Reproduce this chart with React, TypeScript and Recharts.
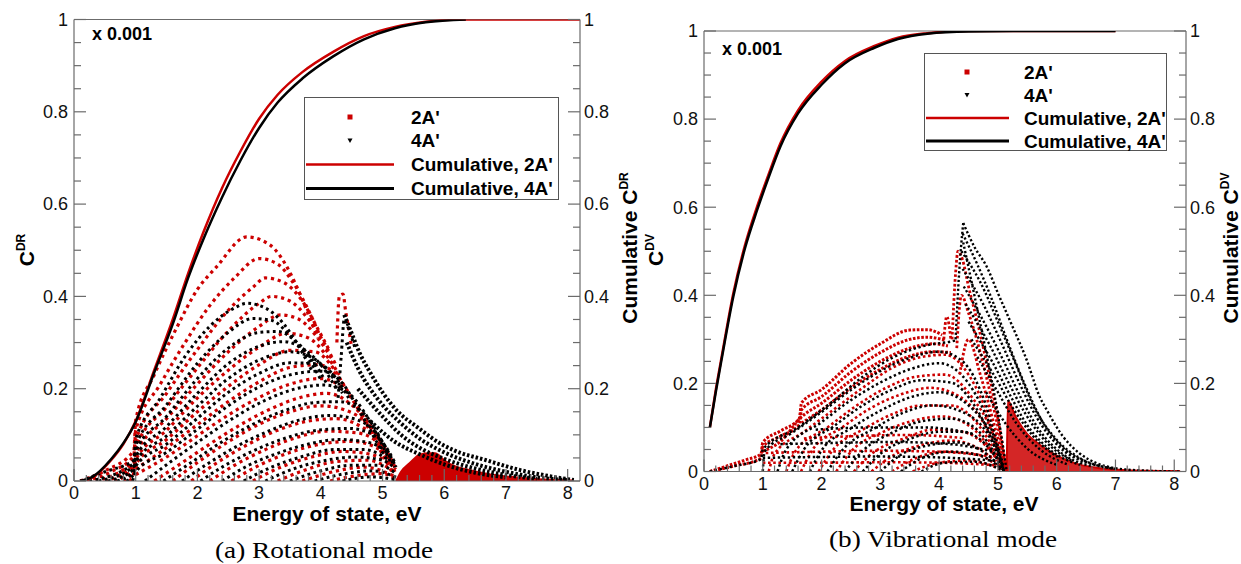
import React from 'react';
import { Area, ComposedChart, Line, ReferenceLine, XAxis, YAxis } from 'recharts';

type Pt = [number, number];

// ---------- axes ----------
const xTicks = [0, 0.2, 0.4, 0.6, 0.8, 1, 1.2, 1.4, 1.6, 1.8, 2, 2.2, 2.4, 2.6, 2.8, 3, 3.2, 3.4, 3.6, 3.8, 4, 4.2, 4.4, 4.6, 4.8, 5, 5.2, 5.4, 5.6, 5.8, 6, 6.2, 6.4, 6.6, 6.8, 7, 7.2, 7.4, 7.6, 7.8, 8];
const yTicks = [0, 0.05, 0.1, 0.15, 0.2, 0.25, 0.3, 0.35, 0.4, 0.45, 0.5, 0.55, 0.6, 0.65, 0.7, 0.75, 0.8, 0.85, 0.9, 0.95, 1];
const legendLabels = ["2A'", "4A'", "Cumulative, 2A'", "Cumulative, 4A'"];

// ---------- (a) rotational mode ----------
const rotCumRed: Pt[] = [[0.1, 0], [0.3, 0.008], [0.6, 0.045], [0.8, 0.08], [1.0, 0.13], [1.3, 0.24], [1.6, 0.35], [1.85, 0.45], [2.1, 0.54], [2.4, 0.635], [2.7, 0.715], [3.0, 0.785], [3.3, 0.837], [3.7, 0.886], [4.2, 0.93], [4.7, 0.964], [5.2, 0.984], [5.7, 0.995], [6.2, 1.0], [7.0, 1.0], [8.2, 1.0]];
const rotCumBlack: Pt[] = [[0.1, 0], [0.3, 0.009], [0.6, 0.047], [0.8, 0.082], [1.0, 0.128], [1.3, 0.235], [1.6, 0.34], [1.85, 0.44], [2.1, 0.525], [2.4, 0.615], [2.7, 0.695], [3.0, 0.765], [3.3, 0.82], [3.7, 0.872], [4.2, 0.92], [4.7, 0.957], [5.2, 0.981], [5.7, 0.994], [6.35, 1.0]];

const rotRedArcs: Pt[][] = [
  [[0.1, 0], [0.5, 0.022], [0.97, 0.066], [1.0, 0.132], [1.3, 0.23], [1.66, 0.331], [2.0, 0.415], [2.31, 0.464], [2.8, 0.529], [3.18, 0.511], [3.45, 0.464], [3.61, 0.421], [3.8, 0.36], [3.95, 0.31]],
  [[0.2, 0], [0.6, 0.02], [0.97, 0.055], [1.0, 0.11], [1.4, 0.21], [1.8, 0.3], [2.2, 0.38], [2.6, 0.44], [3.0, 0.482], [3.3, 0.47], [3.55, 0.43], [3.8, 0.37], [4.0, 0.31]],
  [[0.35, 0], [0.97, 0.044], [1.0, 0.088], [1.5, 0.19], [2.0, 0.285], [2.5, 0.37], [2.9, 0.42], [3.1, 0.44], [3.4, 0.43], [3.7, 0.39], [3.95, 0.33], [4.15, 0.28]],
  [[0.5, 0], [0.97, 0.036], [1.0, 0.072], [1.5, 0.16], [2.0, 0.245], [2.5, 0.325], [3.0, 0.385], [3.2, 0.4], [3.5, 0.39], [3.8, 0.35], [4.05, 0.3], [4.25, 0.25]],
  [[0.65, 0], [0.97, 0.029], [1.0, 0.058], [1.5, 0.135], [2.0, 0.21], [2.5, 0.28], [3.0, 0.335], [3.35, 0.36], [3.65, 0.35], [3.95, 0.31], [4.2, 0.26]],
  [[0.8, 0], [0.97, 0.023], [1.0, 0.046], [1.5, 0.11], [2.0, 0.18], [2.5, 0.24], [3.0, 0.29], [3.45, 0.32], [3.8, 0.31], [4.1, 0.27], [4.3, 0.23]],
  [[0.9, 0], [0.97, 0.018], [1.0, 0.036], [1.5, 0.09], [2.0, 0.15], [2.5, 0.205], [3.0, 0.252], [3.5, 0.283], [3.9, 0.28], [4.2, 0.245], [4.4, 0.2]],
  [[1.0, 0.026], [1.5, 0.072], [2.0, 0.122], [2.5, 0.172], [3.0, 0.215], [3.5, 0.246], [3.95, 0.252], [4.3, 0.222], [4.5, 0.18], [4.75, 0.12], [4.95, 0.07], [5.15, 0.02]],
  [[1.0, 0.014], [1.5, 0.052], [2.0, 0.098], [2.5, 0.143], [3.0, 0.181], [3.5, 0.21], [4.0, 0.222], [4.4, 0.195], [4.65, 0.15], [4.9, 0.095], [5.15, 0.03]],
  [[1.3, 0], [1.7, 0.035], [2.2, 0.08], [2.7, 0.122], [3.2, 0.157], [3.7, 0.182], [4.1, 0.19], [4.5, 0.165], [4.8, 0.12], [5.05, 0.065], [5.2, 0.02]],
  [[1.6, 0], [2.0, 0.04], [2.5, 0.085], [3.0, 0.123], [3.5, 0.15], [4.0, 0.163], [4.5, 0.148], [4.9, 0.1], [5.1, 0.055], [5.2, 0.025]],
  [[1.9, 0], [2.3, 0.038], [2.8, 0.078], [3.3, 0.11], [3.8, 0.13], [4.25, 0.135], [4.65, 0.118], [5.0, 0.08], [5.2, 0.03]],
  [[2.2, 0], [2.6, 0.034], [3.1, 0.068], [3.6, 0.094], [4.1, 0.108], [4.6, 0.104], [5.05, 0.065], [5.2, 0.03]],
  [[2.55, 0], [3.0, 0.034], [3.5, 0.062], [4.0, 0.08], [4.5, 0.086], [4.9, 0.072], [5.1, 0.05], [5.21, 0.025]],
  [[2.9, 0], [3.35, 0.03], [3.85, 0.052], [4.35, 0.064], [4.8, 0.058], [5.15, 0.035]],
  [[3.3, 0], [3.75, 0.024], [4.25, 0.042], [4.75, 0.045], [5.18, 0.022]],
  [[3.7, 0], [4.2, 0.02], [4.7, 0.03], [5.2, 0.01]],
  [[4.15, 0], [4.6, 0.012], [5.0, 0.016], [5.22, 0.003]],
  [[4.26, 0.3], [4.3, 0.4], [4.36, 0.405], [4.4, 0.37], [4.45, 0.33], [4.5, 0.29]],
];

const rotBlackArcs: Pt[][] = [
  [[0.1, 0], [0.5, 0.02], [0.97, 0.045], [1.0, 0.09], [1.4, 0.18], [1.8, 0.27], [2.2, 0.335], [2.6, 0.375], [2.8, 0.385], [3.1, 0.375], [3.4, 0.34], [3.65, 0.29], [3.85, 0.24]],
  [[0.25, 0], [0.97, 0.038], [1.0, 0.076], [1.5, 0.165], [2.0, 0.255], [2.5, 0.322], [2.9, 0.352], [3.2, 0.348], [3.5, 0.315], [3.8, 0.265], [4.0, 0.22]],
  [[0.4, 0], [0.97, 0.032], [1.0, 0.064], [1.5, 0.14], [2.0, 0.222], [2.5, 0.288], [3.0, 0.322], [3.3, 0.324], [3.6, 0.302], [3.9, 0.255], [4.1, 0.21]],
  [[0.55, 0], [0.97, 0.026], [1.0, 0.052], [1.5, 0.118], [2.0, 0.19], [2.5, 0.254], [3.0, 0.292], [3.4, 0.302], [3.75, 0.283], [4.05, 0.243], [4.25, 0.2]],
  [[0.7, 0], [0.97, 0.021], [1.0, 0.042], [1.5, 0.098], [2.0, 0.162], [2.5, 0.222], [3.0, 0.262], [3.5, 0.28], [3.85, 0.268], [4.15, 0.232], [4.35, 0.19]],
  [[0.85, 0], [0.97, 0.016], [1.0, 0.032], [1.5, 0.08], [2.0, 0.136], [2.5, 0.192], [3.0, 0.233], [3.5, 0.256], [3.95, 0.254], [4.25, 0.222], [4.45, 0.18]],
  [[0.95, 0], [1.0, 0.02], [1.5, 0.062], [2.0, 0.112], [2.5, 0.163], [3.0, 0.204], [3.5, 0.23], [4.0, 0.238], [4.35, 0.212], [4.55, 0.17], [4.8, 0.11], [5.05, 0.05]],
  [[1.15, 0], [1.6, 0.045], [2.1, 0.093], [2.6, 0.138], [3.1, 0.175], [3.6, 0.2], [4.05, 0.208], [4.45, 0.19], [4.7, 0.15], [4.95, 0.09], [5.15, 0.035]],
  [[1.45, 0], [1.9, 0.04], [2.4, 0.085], [2.9, 0.123], [3.4, 0.152], [3.9, 0.17], [4.3, 0.172], [4.65, 0.152], [4.85, 0.12], [5.05, 0.07], [5.2, 0.03]],
  [[1.75, 0], [2.15, 0.036], [2.65, 0.076], [3.15, 0.108], [3.65, 0.132], [4.15, 0.142], [4.6, 0.132], [4.95, 0.095], [5.2, 0.035]],
  [[2.05, 0], [2.45, 0.034], [2.95, 0.068], [3.45, 0.094], [3.95, 0.11], [4.45, 0.114], [4.85, 0.1], [5.05, 0.075], [5.2, 0.04]],
  [[2.4, 0], [2.8, 0.032], [3.3, 0.06], [3.8, 0.08], [4.3, 0.09], [4.75, 0.084], [5.1, 0.058], [5.22, 0.03]],
  [[2.75, 0], [3.2, 0.03], [3.7, 0.053], [4.2, 0.068], [4.7, 0.068], [5.12, 0.044]],
  [[3.1, 0], [3.55, 0.026], [4.05, 0.044], [4.55, 0.052], [5.0, 0.045], [5.18, 0.03]],
  [[3.5, 0], [4.0, 0.022], [4.5, 0.034], [4.95, 0.034], [5.2, 0.018]],
  [[3.9, 0], [4.4, 0.016], [4.85, 0.022], [5.22, 0.008]],
  [[4.35, 0], [4.8, 0.009], [5.24, 0.002]],
  [[4.28, 0.18], [4.33, 0.27], [4.38, 0.35], [4.45, 0.33], [4.55, 0.29]],
];

const rotBlackTail: Pt[][] = [
  [[4.38, 0.36], [4.5, 0.32], [4.63, 0.277], [4.8, 0.235], [5.01, 0.19], [5.25, 0.15], [5.55, 0.118], [5.98, 0.078], [6.15, 0.067], [6.68, 0.045], [7.22, 0.024], [7.77, 0.009], [8.1, 0.002]],
  [[4.42, 0.3], [4.6, 0.245], [5.0, 0.165], [5.3, 0.125], [5.6, 0.092], [6.0, 0.062], [6.5, 0.037], [7.0, 0.02], [7.5, 0.008], [8.0, 0.002]],
  [[4.6, 0.2], [5.0, 0.14], [5.3, 0.1], [5.6, 0.072], [6.0, 0.048], [6.5, 0.027], [7.0, 0.013], [7.5, 0.005]],
  [[4.8, 0.13], [5.2, 0.085], [5.6, 0.058], [6.0, 0.036], [6.5, 0.018], [7.0, 0.008]],
];

const rotRedFill: Pt[] = [[5.22, 0], [5.3, 0.02], [5.45, 0.04], [5.6, 0.057], [5.75, 0.06], [5.85, 0.06], [6.0, 0.045], [6.15, 0.033], [6.4, 0.024], [6.68, 0.016], [7.0, 0.01], [7.22, 0.007], [7.6, 0.003], [8.1, 0.001]];

// ---------- (b) vibrational mode ----------
const vibCumRed: Pt[] = [[0.1, 0.1], [0.2, 0.185], [0.3, 0.26], [0.5, 0.405], [0.7, 0.515], [0.9, 0.6], [1.1, 0.675], [1.3, 0.745], [1.6, 0.82], [2.0, 0.885], [2.4, 0.932], [2.9, 0.966], [3.3, 0.985], [3.8, 0.995], [4.5, 1.0], [5.5, 1.0], [7.0, 1.0]];
const vibCumBlack: Pt[] = [[0.1, 0.1], [0.2, 0.18], [0.3, 0.255], [0.5, 0.398], [0.7, 0.508], [0.9, 0.592], [1.1, 0.668], [1.3, 0.738], [1.6, 0.813], [2.0, 0.878], [2.4, 0.927], [2.9, 0.962], [3.3, 0.982], [3.8, 0.994], [4.5, 0.999], [5.5, 1.0], [7.0, 1.0]];

const vibRedBand: Pt[][] = [
  [[0.1, 0], [0.4, 0.013], [0.7, 0.026], [0.97, 0.04], [1.0, 0.066], [1.3, 0.092], [1.62, 0.12], [1.66, 0.156], [2.0, 0.186], [2.5, 0.245], [3.0, 0.29], [3.5, 0.321], [3.8, 0.322], [4.05, 0.31]],
  [[0.1, 0], [0.5, 0.012], [0.97, 0.03], [1.0, 0.056], [1.3, 0.08], [1.62, 0.106], [1.66, 0.14], [2.0, 0.17], [2.5, 0.226], [3.0, 0.27], [3.5, 0.3], [3.8, 0.305], [4.1, 0.298]],
  [[1.0, 0.046], [1.3, 0.068], [1.66, 0.124], [2.0, 0.155], [2.5, 0.207], [3.0, 0.25], [3.5, 0.28], [3.9, 0.29], [4.15, 0.285]],
  [[1.66, 0.11], [2.0, 0.14], [2.5, 0.19], [3.0, 0.232], [3.5, 0.262], [3.9, 0.272], [4.2, 0.27]],
];

const vibRedArcs: Pt[][] = [
  [[1.1, 0], [1.2, 0.04], [1.7, 0.09], [2.2, 0.14], [2.7, 0.19], [3.2, 0.235], [3.7, 0.26], [4.1, 0.265], [4.5, 0.22], [4.85, 0.12], [5.12, 0]],
  [[1.4, 0], [1.55, 0.045], [2.1, 0.1], [2.6, 0.15], [3.1, 0.19], [3.6, 0.215], [4.1, 0.22], [4.55, 0.17], [4.9, 0.09], [5.12, 0]],
  [[1.65, 0], [1.85, 0.05], [2.35, 0.1], [2.85, 0.145], [3.35, 0.175], [3.85, 0.19], [4.35, 0.17], [4.8, 0.1], [5.12, 0]],
  [[1.95, 0], [2.2, 0.05], [2.7, 0.095], [3.2, 0.13], [3.7, 0.15], [4.2, 0.15], [4.7, 0.1], [5.12, 0]],
  [[2.25, 0], [2.5, 0.045], [3.05, 0.09], [3.55, 0.115], [4.05, 0.125], [4.55, 0.1], [5.12, 0]],
  [[2.55, 0], [2.85, 0.04], [3.4, 0.075], [3.9, 0.095], [4.4, 0.09], [4.85, 0.05], [5.12, 0]],
  [[2.85, 0], [3.2, 0.035], [3.7, 0.06], [4.2, 0.07], [4.7, 0.05], [5.12, 0]],
  [[3.2, 0], [3.6, 0.03], [4.1, 0.045], [4.6, 0.04], [5.12, 0]],
  [[3.55, 0], [4.0, 0.02], [4.5, 0.025], [5.12, 0]],
  [[1.0, 0.02], [2.0, 0.02], [3.0, 0.021], [4.0, 0.02], [5.0, 0.014]],
  [[1.05, 0.042], [2.0, 0.045], [3.0, 0.047], [4.0, 0.045], [4.9, 0.034]],
  [[1.7, 0.075], [2.5, 0.08], [3.5, 0.083], [4.4, 0.076]],
];

const vibRedSpike: Pt[][] = [
  [[4.08, 0.3], [4.13, 0.352], [4.2, 0.3]],
  [[4.22, 0.3], [4.28, 0.45], [4.32, 0.5], [4.4, 0.48], [4.5, 0.42], [4.65, 0.34], [4.85, 0.22], [5.0, 0.12], [5.15, 0]],
  [[4.3, 0.28], [4.38, 0.4], [4.5, 0.36], [4.7, 0.27], [4.9, 0.16], [5.05, 0.07], [5.15, 0]],
  [[4.35, 0.22], [4.5, 0.3], [4.7, 0.22], [4.95, 0.1], [5.15, 0]],
];

const vibRedTail: Pt[] = [[5.15, 0], [5.17, 0.16], [5.3, 0.125], [5.5, 0.085], [5.7, 0.062], [6.0, 0.036], [6.3, 0.019], [6.7, 0.008], [7.2, 0.003], [8.1, 0.001]];

const vibBlackArcs: Pt[][] = [
  [[0.1, 0], [0.5, 0.012], [0.97, 0.028], [1.0, 0.05], [1.6, 0.1], [2.2, 0.16], [2.7, 0.215], [3.2, 0.258], [3.8, 0.287], [4.2, 0.295], [4.3, 0.298]],
  [[1.0, 0], [1.03, 0.045], [1.5, 0.088], [2.0, 0.135], [2.5, 0.185], [3.0, 0.228], [3.5, 0.258], [4.0, 0.272], [4.4, 0.25], [4.8, 0.15], [5.12, 0]],
  [[1.25, 0], [1.4, 0.05], [2.0, 0.112], [2.5, 0.162], [3.0, 0.202], [3.5, 0.232], [4.0, 0.246], [4.5, 0.2], [4.85, 0.11], [5.12, 0]],
  [[1.5, 0], [1.7, 0.05], [2.2, 0.102], [2.7, 0.15], [3.2, 0.186], [3.7, 0.207], [4.2, 0.202], [4.6, 0.15], [5.12, 0]],
  [[1.8, 0], [2.0, 0.048], [2.5, 0.098], [3.0, 0.138], [3.5, 0.168], [4.0, 0.18], [4.5, 0.15], [4.9, 0.08], [5.12, 0]],
  [[2.1, 0], [2.35, 0.048], [2.9, 0.098], [3.4, 0.134], [3.9, 0.15], [4.4, 0.135], [4.85, 0.08], [5.12, 0]],
  [[2.4, 0], [2.7, 0.047], [3.2, 0.088], [3.7, 0.114], [4.2, 0.12], [4.6, 0.1], [5.12, 0]],
  [[2.7, 0], [3.0, 0.04], [3.5, 0.074], [4.0, 0.09], [4.4, 0.09], [4.8, 0.06], [5.12, 0]],
  [[3.0, 0], [3.35, 0.038], [3.85, 0.06], [4.3, 0.066], [4.8, 0.04], [5.12, 0]],
  [[3.35, 0], [3.7, 0.03], [4.2, 0.045], [4.7, 0.036], [5.12, 0]],
  [[3.7, 0], [4.1, 0.02], [4.6, 0.022], [5.12, 0]],
  [[1.0, 0.031], [2.0, 0.033], [3.0, 0.034], [4.0, 0.032], [5.0, 0.024]],
  [[1.3, 0.062], [2.2, 0.065], [3.2, 0.067], [4.2, 0.062], [4.95, 0.044]],
  [[1.9, 0.095], [2.8, 0.1], [3.8, 0.1], [4.6, 0.085]],
];

const vibBlackSpike: Pt[][] = [
  [[4.28, 0.3], [4.34, 0.45], [4.41, 0.564]],
  [[4.41, 0.564], [4.6, 0.51], [4.81, 0.465], [5.0, 0.405], [5.2, 0.344], [5.49, 0.253], [5.71, 0.17], [5.83, 0.14], [6.11, 0.079], [6.39, 0.041], [6.68, 0.019], [7.02, 0.007], [7.5, 0.002], [8.1, 0]],
  [[4.4, 0.54], [4.65, 0.47], [4.9, 0.39], [5.15, 0.3], [5.45, 0.2], [5.75, 0.115], [6.1, 0.055], [6.5, 0.022], [7.0, 0.006]],
  [[4.38, 0.5], [4.7, 0.43], [5.0, 0.34], [5.3, 0.245], [5.6, 0.15], [6.0, 0.072], [6.4, 0.03], [7.0, 0.006]],
  [[4.4, 0.46], [4.75, 0.38], [5.05, 0.295], [5.35, 0.205], [5.65, 0.125], [6.05, 0.055], [6.5, 0.02]],
  [[4.42, 0.42], [4.8, 0.33], [5.1, 0.25], [5.4, 0.165], [5.7, 0.095], [6.1, 0.04], [6.6, 0.012]],
  [[4.45, 0.38], [4.85, 0.29], [5.15, 0.21], [5.45, 0.135], [5.8, 0.07], [6.25, 0.025]],
  [[4.5, 0.34], [4.9, 0.25], [5.2, 0.175], [5.5, 0.105], [5.9, 0.048], [6.4, 0.015]],
  [[4.55, 0.3], [4.95, 0.215], [5.25, 0.145], [5.6, 0.08], [6.05, 0.03]],
  [[4.65, 0.26], [5.0, 0.18], [5.3, 0.112], [5.7, 0.052], [6.2, 0.015]],
  [[4.8, 0.18], [5.15, 0.105], [5.5, 0.052], [6.0, 0.015]],
  [[4.41, 0.52], [4.6, 0.4], [4.8, 0.27], [5.0, 0.13], [5.15, 0]],
];

// ---------- styling ----------
const RED = '#cc0000';
const AXIS = '#6b6b6b';
const SANS = '"Liberation Sans", Arial, sans-serif';
const SERIF = '"Liberation Serif", "Times New Roman", serif';

const rows = (pts: Pt[]) => pts.map(([x, y]) => ({ x, y }));
const isMajorY = (v: number) => Math.abs(v * 5 - Math.round(v * 5)) < 1e-9;
const fmtY = (v: number) => (v === 0 ? '0' : v === 1 ? '1' : v.toFixed(1));

const dotted = (arcs: Pt[][], key: string, color: string, w: number, dash: string) =>
  arcs.map((pts, i) => (
    <Line
      key={key + i}
      data={rows(pts)}
      dataKey="y"
      yAxisId="l"
      type="monotone"
      stroke={color}
      strokeWidth={w}
      strokeDasharray={dash}
      dot={false}
      activeDot={false}
      isAnimationActive={false}
    />
  ));

const cumLine = (pts: Pt[], key: string, color: string, w: number) => (
  <Line
    key={key}
    data={rows(pts)}
    dataKey="y"
    yAxisId="r"
    type="monotone"
    stroke={color}
    strokeWidth={w}
    dot={false}
    activeDot={false}
    isAnimationActive={false}
  />
);

const xTick = (props: any) => {
  const { x, y, payload } = props;
  const v = payload.value;
  const major = Number.isInteger(v);
  return (
    <g>
      <line x1={x} x2={x} y1={y} y2={y - (major ? 12 : 6)} stroke={AXIS} strokeWidth={1.2} />
      {major && (
        <text x={x} y={y + 18} textAnchor="middle" fontSize={18} fontFamily={SANS} fill="#111">
          {v}
        </text>
      )}
    </g>
  );
};

const yTick = (side: 'left' | 'right') => (props: any) => {
  const { x, y, payload } = props;
  const v = payload.value;
  const major = isMajorY(v);
  const dir = side === 'left' ? 1 : -1;
  return (
    <g>
      <line x1={x} x2={x + dir * (major ? 12 : 7)} y1={y} y2={y} stroke={AXIS} strokeWidth={1.2} />
      {major && (
        <text
          x={x - dir * (side === 'left' ? 6 : 4)}
          y={y}
          dy="0.35em"
          textAnchor={side === 'left' ? 'end' : 'start'}
          fontSize={18}
          fontFamily={SANS}
          fill="#111"
        >
          {fmtY(v)}
        </text>
      )}
    </g>
  );
};

const axes = (rightWidth: number) => [
  <XAxis
    key="x"
    type="number"
    dataKey="x"
    domain={[0, 8.2]}
    ticks={xTicks}
    interval={0}
    tickSize={0}
    tickMargin={0}
    tickLine={false}
    axisLine={{ stroke: AXIS, strokeWidth: 1.2 }}
    tick={xTick}
    height={30}
    allowDataOverflow
  />,
  <YAxis
    key="l"
    yAxisId="l"
    type="number"
    domain={[0, 1]}
    ticks={yTicks}
    interval={0}
    tickSize={0}
    tickMargin={0}
    tickLine={false}
    axisLine={{ stroke: AXIS, strokeWidth: 1.2 }}
    tick={yTick('left')}
    width={60}
    allowDataOverflow
  />,
  <YAxis
    key="r"
    yAxisId="r"
    orientation="right"
    type="number"
    domain={[0, 1]}
    ticks={yTicks}
    interval={0}
    tickSize={0}
    tickMargin={0}
    tickLine={false}
    axisLine={{ stroke: AXIS, strokeWidth: 1.2 }}
    tick={yTick('right')}
    width={rightWidth}
    allowDataOverflow
  />,
  <ReferenceLine key="top" yAxisId="l" y={1} stroke={AXIS} strokeWidth={1.2} />,
];

function Legend({ x, y, w, h, ys, mx, tx, l1, l2 }: { x: number; y: number; w: number; h: number; ys: number[]; mx: number; tx: number; l1: number; l2: number }) {
  return (
    <g fontFamily={SANS} fontWeight="bold" fontSize={19}>
      <rect x={x} y={y} width={w} height={h} fill="#fff" stroke="#555" strokeWidth={1} />
      <rect x={mx - 2.5} y={ys[0] - 2.5} width={5} height={5} fill={RED} />
      <polygon points={`${mx - 2.5},${ys[1] - 2} ${mx + 2.5},${ys[1] - 2} ${mx},${ys[1] + 2.5}`} fill="#000" />
      <line x1={l1} x2={l2} y1={ys[2]} y2={ys[2]} stroke={RED} strokeWidth={2.5} />
      <line x1={l1} x2={l2} y1={ys[3]} y2={ys[3]} stroke="#000" strokeWidth={3} />
      {legendLabels.map((t, i) => (
        <text key={t} x={tx} y={ys[i]} dy="0.36em">
          {t}
        </text>
      ))}
    </g>
  );
}

function VLabel({ x, y, main, sup }: { x: number; y: number; main: string; sup: string }) {
  return (
    <text transform={`translate(${x},${y}) rotate(-90)`} textAnchor="middle" fontFamily={SANS} fontWeight="bold" fontSize={21}>
      {main}
      <tspan dy={-9} fontSize={12}>
        {sup}
      </tspan>
    </text>
  );
}

export default function App() {
  return (
    <div style={{ position: 'absolute', left: 0, top: 0, width: 1241, height: 564, background: '#fff' }}>
      <div style={{ position: 'absolute', left: 0, top: 0 }}>
        <ComposedChart width={640} height={564} margin={{ top: 19.5, right: 20, bottom: 53, left: 14 }}>
          {axes(40)}
          {dotted(rotRedArcs, 'ra', RED, 3.2, '3.2 3.8')}
          <Area
            data={rows(rotRedFill)}
            dataKey="y"
            yAxisId="l"
            type="monotone"
            stroke={RED}
            strokeWidth={2}
            fill={RED}
            fillOpacity={1}
            dot={false}
            activeDot={false}
            isAnimationActive={false}
          />
          {dotted(rotBlackArcs, 'ba', '#000', 3, '2.8 3.4')}
          {dotted(rotBlackTail, 'bt', '#000', 4, '2.5 2')}
          {cumLine(rotCumRed, 'cr', RED, 2.5)}
          {cumLine(rotCumBlack, 'cb', '#000', 2.5)}
        </ComposedChart>
      </div>
      <div style={{ position: 'absolute', left: 640, top: 0 }}>
        <ComposedChart width={601} height={564} margin={{ top: 31, right: 15, bottom: 62.5, left: 4 }}>
          {axes(40)}
          {dotted(vibRedBand, 'rb', RED, 3, '2.6 1.6')}
          {dotted(vibRedArcs, 'rm', RED, 2.6, '2.6 2.6')}
          <Area
            data={rows(vibRedTail)}
            dataKey="y"
            yAxisId="l"
            type="monotone"
            stroke={RED}
            strokeWidth={2}
            fill={RED}
            fillOpacity={0.85}
            dot={false}
            activeDot={false}
            isAnimationActive={false}
          />
          {dotted(vibBlackArcs, 'bm', '#000', 2.5, '2.4 2.6')}
          {dotted(vibRedSpike, 'rs', RED, 2.8, '2.6 2.2')}
          {dotted(vibBlackSpike, 'bs', '#000', 2.4, '2.2 2.2')}
          {cumLine(vibCumRed, 'vcr', RED, 2.5)}
          {cumLine(vibCumBlack, 'vcb', '#000', 2.5)}
        </ComposedChart>
      </div>
      <svg width={1241} height={564} style={{ position: 'absolute', left: 0, top: 0, pointerEvents: 'none' }}>
        <text x={92} y={40} fontFamily={SANS} fontWeight="bold" fontSize={18}>
          x 0.001
        </text>
        <text x={722} y={55} fontFamily={SANS} fontWeight="bold" fontSize={18}>
          x 0.001
        </text>
        <Legend x={304.5} y={97.5} w={254} h={102} ys={[117, 140.5, 164.5, 188.5]} mx={350} tx={411} l1={306} l2={394} />
        <Legend x={924.5} y={53.5} w={242} h={97} ys={[72, 95, 118, 141]} mx={967} tx={1024} l1={926} l2={1009} />
        <VLabel x={34} y={250} main="C" sup="DR" />
        <VLabel x={637} y={248} main="Cumulative C" sup="DR" />
        <VLabel x={663} y={250} main="C" sup="DV" />
        <VLabel x={1238} y={248} main="Cumulative C" sup="DV" />
        <text x={327} y={521} textAnchor="middle" fontFamily={SANS} fontWeight="bold" fontSize={21}>
          Energy of state, eV
        </text>
        <text x={944} y={511} textAnchor="middle" fontFamily={SANS} fontWeight="bold" fontSize={21}>
          Energy of state, eV
        </text>
        <text x={324} y={558} textAnchor="middle" fontFamily={SERIF} fontSize={23} textLength={218} lengthAdjust="spacingAndGlyphs">
          (a) Rotational mode
        </text>
        <text x={943} y={547} textAnchor="middle" fontFamily={SERIF} fontSize={23} textLength={228} lengthAdjust="spacingAndGlyphs">
          (b) Vibrational mode
        </text>
      </svg>
    </div>
  );
}
